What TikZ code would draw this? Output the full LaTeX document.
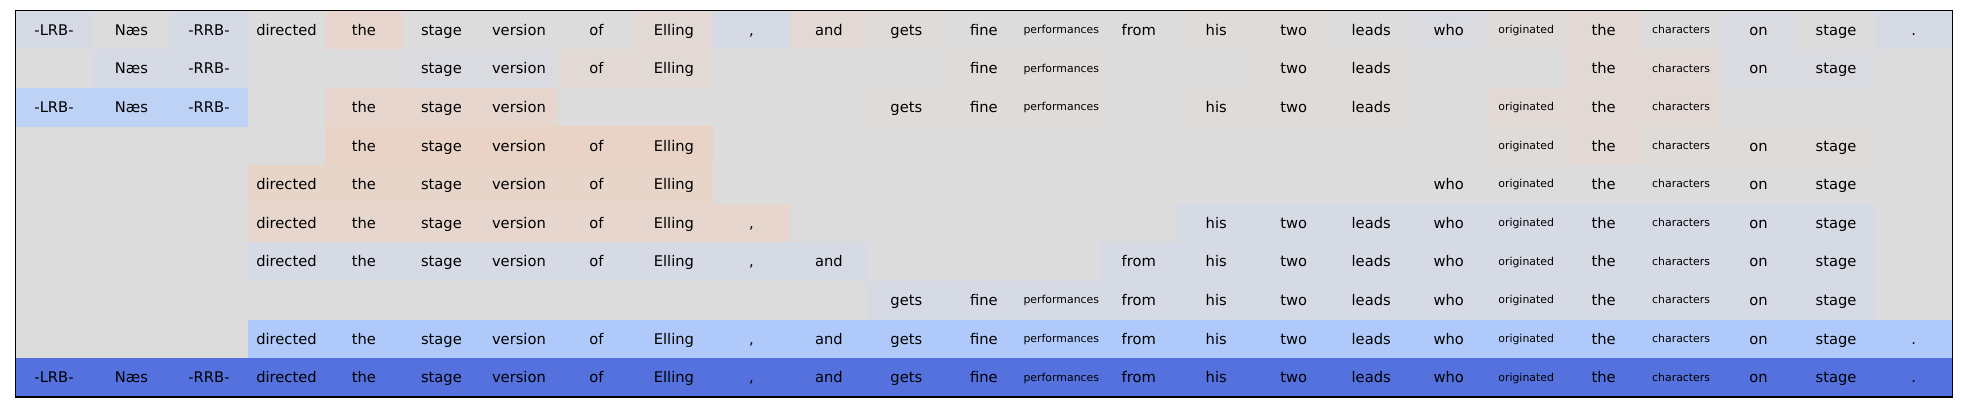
\documentclass[tikz,border=0pt]{standalone}
\usepackage{fontspec}
\setmainfont{DejaVu Sans}
\definecolor{hN}{RGB}{221,220,220}
\definecolor{hC}{RGB}{218,219,224}
\definecolor{hB}{RGB}{213,218,229}
\definecolor{hV}{RGB}{223,219,217}
\definecolor{hW}{RGB}{226,217,213}
\definecolor{hP}{RGB}{230,214,205}
\definecolor{hR}{RGB}{231,213,202}
\definecolor{hQ}{RGB}{233,211,198}
\definecolor{hL}{RGB}{190,210,246}
\definecolor{hM}{RGB}{175,202,250}
\definecolor{hD}{RGB}{84,113,222}

\begin{document}
\begin{tikzpicture}[x=0.5pt, y=-0.5pt]
        \tikzstyle{cell} = [rectangle, inner sep=0pt, outer sep=0pt,
          minimum width=38.9pt, minimum height=19.45pt, text depth=0pt]
        \tikzstyle{big} = [font=\fontsize{7.35}{8}\selectfont, text height=5.2pt]
        \tikzstyle{small} = [font=\fontsize{5.45}{6}\selectfont, text height=3.4pt]

        \useasboundingbox (0,0) rectangle (1962,412);
        \fill[hN] (15.3,10.7) rectangle (1952.3,397);

        % words of the sentence, one per column
        \foreach \w/\s [count=\i] in {-LRB-/big, Næs/big, -RRB-/big, directed/big, the/big,
            stage/big, version/big, of/big, Elling/big, {,}/big, and/big, gets/big, fine/big,
            performances/small, from/big, his/big, two/big, leads/big, who/big,
            originated/small, the/big, characters/small, on/big, stage/big, ./big}
          {\expandafter\xdef\csname w\i\endcsname{\w}\expandafter\xdef\csname s\i\endcsname{\s}}

        % x = word not kept in that row
        \foreach \r/\codes in {
            1/{B,N,B,N,P,N,N,N,W,B,W,V,N,N,N,V,V,N,C,V,W,N,C,N,B},
            2/{x,B,B,x,x,C,C,W,W,x,x,x,V,V,x,x,V,V,x,x,W,W,C,C,x},
            3/{L,L,L,x,P,P,P,x,x,x,x,V,V,V,x,V,V,V,x,W,W,W,x,x,x},
            4/{x,x,x,x,Q,Q,Q,Q,Q,x,x,x,x,x,x,x,x,x,x,V,W,V,V,V,x},
            5/{x,x,x,R,R,R,R,R,R,x,x,x,x,x,x,x,x,x,N,N,N,N,N,N,x},
            6/{x,x,x,P,P,P,P,P,P,P,x,x,x,x,x,B,B,B,B,B,B,B,B,B,x},
            7/{x,x,x,B,B,B,B,B,B,B,B,x,x,x,B,B,B,B,B,B,B,B,B,B,x},
            8/{x,x,x,x,x,x,x,x,x,x,x,B,B,B,B,B,B,B,B,B,B,B,B,B,x},
            9/{x,x,x,M,M,M,M,M,M,M,M,M,M,M,M,M,M,M,M,M,M,M,M,M,M},
            10/{D,D,D,D,D,D,D,D,D,D,D,D,D,D,D,D,D,D,D,D,D,D,D,D,D}}
          \foreach \c [count=\i] in \codes {
            \if x\c\else
              \edef\sz{\csname s\i\endcsname}
              \node[cell, fill=h\c, \sz] (w-\r-\i) at ({15.3+(\i-0.5)*77.48}, {10.7+(\r-0.5)*38.63})
                {\csname w\i\endcsname};
            \fi
          }

        \draw[line width=0.6pt] (15.3,10.7) rectangle (1952.3,397);
      \end{tikzpicture}
\end{document}
